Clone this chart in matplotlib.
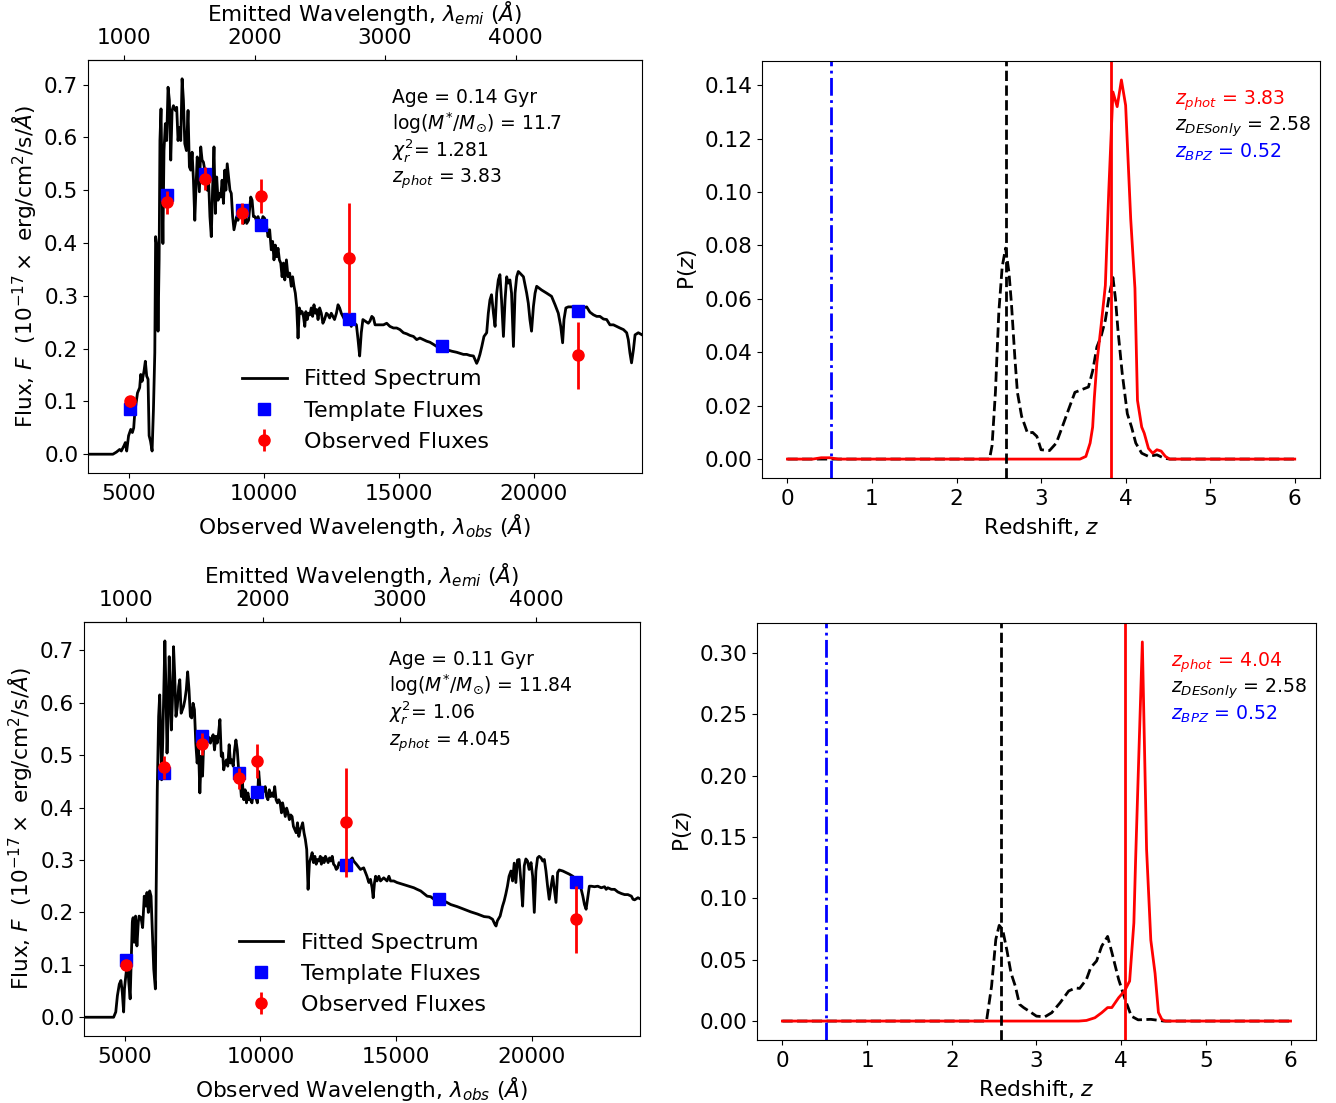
import numpy as np
import matplotlib
matplotlib.use("Agg")
import matplotlib.pyplot as plt

plt.rcParams['font.family'] = ['DejaVu Sans']
plt.rcParams['mathtext.fontset'] = 'dejavusans'

# ---------------- Object 1 (z_phot = 3.83) ----------------
z_phot1 = 3.83
wl1 = [3500, 4420, 4550, 4670, 4730, 4830, 4880, 4930, 5000, 5080, 5140, 5190, 5230, 5330, 5410, 5450,
       5500, 5570, 5620, 5670, 5720, 5760, 5810, 5870, 5920, 5970, 6000, 6050, 6090, 6130, 6160, 6200,
       6240, 6270, 6310, 6360, 6410, 6460, 6510, 6560, 6610, 6660, 6730, 6780, 6830, 6880, 6930, 6980,
       7030, 7080, 7140, 7200, 7250, 7300, 7350, 7400, 7450, 7500, 7540, 7620, 7670, 7720, 7770, 7820,
       7870, 7910, 7960, 8010, 8060, 8110, 8160, 8210, 8260, 8310, 8360, 8410, 8460, 8510, 8560, 8600,
       8650, 8700, 8750, 8800, 8850, 8900, 8950, 9000, 9050, 9100, 9150, 9200, 9250, 9300, 9370, 9440,
       9520, 9570, 9620, 9670, 9730, 9790, 9850, 9910, 9970, 10030, 10100, 10160, 10220, 10280, 10330,
       10380, 10430, 10480, 10530, 10580, 10630, 10680, 10730, 10780, 10840, 10900, 10960, 11020, 11070,
       11120, 11170, 11220, 11270, 11320, 11370, 11420, 11470, 11520, 11560, 11610, 11660, 11710, 11760,
       11810, 11860, 11910, 11960, 12010, 12070, 12130, 12190, 12250, 12320, 12380, 12440, 12500, 12560,
       12620, 12690, 12750, 12810, 12870, 12930, 12990, 13060, 13120, 13180, 13240, 13300, 13360, 13430,
       13490, 13550, 13610, 13670, 13870, 13930, 14000, 14060, 14120, 14180, 14300, 14430, 14550, 14670,
       14800, 14920, 15040, 15170, 15290, 15410, 15540, 15660, 15780, 15910, 16030, 16150, 16280, 16400,
       16590, 16770, 16960, 17140, 17260, 17390, 17510, 17630, 17760, 17820, 17880, 17940, 18000, 18070,
       18150, 18250, 18310, 18370, 18430, 18500, 18560, 18620, 18680, 18740, 18800, 18870, 18930, 18990,
       19050, 19110, 19170, 19240, 19300, 19360, 19420, 19480, 19610, 19730, 19790, 19850, 19910, 19980,
       20040, 20100, 20280, 20470, 20650, 20780, 20900, 20990, 21060, 21110, 21180, 21270, 21460, 21640,
       21830, 21950, 22070, 22200, 22320, 22440, 22570, 22690, 22810, 22940, 23060, 23180, 23310, 23430,
       23490, 23550, 23610, 23680, 23740, 23860, 24000]
fl1 = [0, 0, 0.004, 0.009, 0.006, 0.016, 0.022, 0.006, 0.035, 0.047, 0.041, 0.050, 0.079, 0.116, 0.126, 0.151,
       0.138, 0.157, 0.176, 0.148, 0.142, 0.035, 0.025, 0.006, 0.085, 0.192, 0.412, 0.393, 0.233, 0.368, 0.594, 0.654,
       0.500, 0.399, 0.575, 0.626, 0.594, 0.695, 0.670, 0.557, 0.651, 0.660, 0.651, 0.657, 0.594, 0.619, 0.594, 0.711,
       0.670, 0.588, 0.575, 0.651, 0.544, 0.538, 0.572, 0.519, 0.443, 0.513, 0.563, 0.497, 0.582, 0.557, 0.553, 0.538,
       0.528, 0.500, 0.519, 0.450, 0.412, 0.506, 0.582, 0.456, 0.525, 0.481, 0.494, 0.487, 0.519, 0.475, 0.538, 0.500,
       0.550, 0.525, 0.500, 0.494, 0.450, 0.425, 0.437, 0.450, 0.443, 0.469, 0.450, 0.456, 0.437, 0.456, 0.437, 0.443,
       0.487, 0.481, 0.450, 0.450, 0.443, 0.450, 0.440, 0.437, 0.450, 0.447, 0.434, 0.412, 0.425, 0.387, 0.403,
       0.368, 0.396, 0.374, 0.390, 0.368, 0.362, 0.336, 0.362, 0.330, 0.368, 0.336, 0.343, 0.318, 0.336,
       0.318, 0.305, 0.280, 0.220, 0.277, 0.267, 0.270, 0.261, 0.242, 0.270, 0.255, 0.267, 0.264, 0.277,
       0.261, 0.283, 0.267, 0.274, 0.255, 0.277, 0.267, 0.248, 0.255, 0.267, 0.264, 0.258, 0.267, 0.261,
       0.255, 0.267, 0.283, 0.277, 0.267, 0.261, 0.255, 0.258, 0.248, 0.255, 0.242, 0.252, 0.248, 0.245,
       0.217, 0.186, 0.230, 0.255, 0.248, 0.252, 0.261, 0.258, 0.245, 0.245, 0.245, 0.245, 0.248, 0.242,
       0.239, 0.239, 0.236, 0.230, 0.228, 0.225, 0.223, 0.217, 0.220, 0.217, 0.214, 0.212, 0.208, 0.204,
       0.204, 0.198, 0.195, 0.193, 0.191, 0.189, 0.189, 0.187, 0.186, 0.179, 0.172, 0.179, 0.189, 0.204,
       0.223, 0.230, 0.267, 0.292, 0.302, 0.267, 0.242, 0.305, 0.330, 0.340, 0.292, 0.223, 0.292, 0.336,
       0.324, 0.330, 0.305, 0.204, 0.305, 0.336, 0.346, 0.343, 0.336, 0.305, 0.286, 0.255, 0.233, 0.280,
       0.305, 0.318, 0.311, 0.305, 0.299, 0.283, 0.267, 0.242, 0.211, 0.255, 0.277, 0.279, 0.279, 0.279,
       0.277, 0.279, 0.269, 0.264, 0.261, 0.261, 0.256, 0.255, 0.245, 0.245, 0.242, 0.239, 0.236, 0.230,
       0.217, 0.192, 0.173, 0.198, 0.226, 0.230, 0.226]
templ_fl1 = [0.086, 0.491, 0.530, 0.462, 0.435, 0.256, 0.204, 0.272]

pz_z_phot1 = [0, 0.30, 0.40, 0.50, 0.60, 3.46, 3.53, 3.58, 3.61, 3.63, 3.66, 3.71, 3.76, 3.80, 3.85, 3.90,
              3.95, 4.00, 4.06, 4.11, 4.14, 4.19, 4.22, 4.27, 4.32, 4.37, 4.42, 4.47, 4.52, 6.0]
pz_phot1 = [0, 0, 0.0005, 0.0005, 0, 0, 0.001, 0.006, 0.012, 0.023, 0.036, 0.050, 0.065, 0.100, 0.1375, 0.132,
            0.142, 0.1325, 0.090, 0.064, 0.022, 0.012, 0.0097, 0.004, 0.0022, 0.0035, 0.003, 0.001, 0, 0]
pz_z_des1 = [0, 2.39, 2.42, 2.46, 2.50, 2.54, 2.58, 2.62, 2.65, 2.69, 2.72, 2.77, 2.84, 2.90, 2.95, 3.00,
             3.10, 3.18, 3.25, 3.33, 3.40, 3.48, 3.56, 3.61, 3.66, 3.71, 3.76, 3.81, 3.85, 3.88, 3.91, 3.96,
             4.02, 4.07, 4.12, 4.19, 4.27, 4.37, 4.45, 4.52, 6.0]
pz_des1 = [0, 0, 0.005, 0.025, 0.055, 0.072, 0.079, 0.070, 0.058, 0.038, 0.025, 0.016, 0.0097, 0.010, 0.0085, 0.0035,
           0.0032, 0.006, 0.012, 0.019, 0.025, 0.026, 0.027, 0.033, 0.042, 0.046, 0.052, 0.062, 0.068, 0.060, 0.048, 0.032,
           0.017, 0.012, 0.006, 0.0022, 0.001, 0.0016, 0.0004, 0, 0]

# ---------------- Object 2 (z_phot = 4.045) ----------------
z_phot2 = 4.045
z_phot2_pdf = 4.04
wl2 = [3500, 4590, 4670, 4730, 4800, 4860, 4910, 4960, 4990, 5040, 5100, 5150, 5200, 5240, 5280, 5310,
       5350, 5400, 5450, 5500, 5530, 5600, 5660, 5720, 5780, 5820, 5870, 5920, 5970, 6020, 6070, 6130,
       6160, 6200, 6250, 6290, 6320, 6360, 6400, 6440, 6480, 6520, 6560, 6600, 6640, 6680, 6720, 6760,
       6800, 6840, 6890, 6940, 6990, 7030, 7080, 7130, 7170, 7220, 7270, 7320, 7370, 7420, 7470, 7520,
       7570, 7620, 7670, 7720, 7770, 7820, 7870, 7910, 7960, 8010, 8060, 8110, 8160, 8210, 8260, 8310,
       8360, 8410, 8460, 8510, 8560, 8610, 8650, 8700, 8750, 8800, 8850, 8900, 8950, 9000, 9050, 9100,
       9150, 9200, 9250, 9300, 9340, 9390, 9440, 9490, 9540, 9590, 9640, 9690, 9740, 9790, 9840, 9890,
       9940, 9990, 10040, 10080, 10130, 10180, 10230, 10280, 10330, 10380, 10430, 10480, 10530, 10580,
       10630, 10680, 10730, 10780, 10820, 10870, 10920, 10970, 11020, 11070, 11120, 11170, 11220, 11270,
       11320, 11370, 11420, 11470, 11520, 11560, 11610, 11660, 11710, 11760, 11810, 11860, 11910, 11960,
       12010, 12060, 12110, 12160, 12210, 12250, 12300, 12350, 12400, 12450, 12500, 12550, 12600, 12650,
       12700, 12750, 12800, 12850, 12900, 12950, 12990, 13040, 13090, 13140, 13190, 13240, 13290, 13340,
       13390, 13440, 13490, 13540, 13690, 13810, 13930, 14000, 14060, 14120, 14160, 14210, 14250, 14300,
       14370, 14430, 14490, 14550, 14610, 14670, 14740, 14800, 14920, 15040, 15170, 15290, 15410, 15540,
       15660, 15780, 15910, 16030, 16150, 16280, 16400, 16590, 16770, 17020, 17260, 17510, 17760, 18000,
       18250, 18430, 18560, 18650, 18690, 18740, 18840, 18930, 18990, 19050, 19110, 19170, 19240, 19300,
       19360, 19420, 19480, 19540, 19610, 19670, 19730, 19790, 19850, 19910, 19980, 20040, 20100, 20160,
       20220, 20280, 20350, 20410, 20470, 20530, 20590, 20650, 20720, 20780, 20840, 20900, 20960, 21020,
       21150, 21270, 21390, 21520, 21640, 21760, 21830, 21890, 21950, 22010, 22070, 22130, 22200, 22320,
       22440, 22570, 22690, 22750, 22810, 22940, 23060, 23180, 23310, 23430, 23550, 23680, 23740, 23800,
       23920, 24000]
fl2 = [0, 0, 0.010, 0.041, 0.063, 0.070, 0.048, 0.010, 0.054, 0.079, 0.105, 0.067, 0.035, 0.111, 0.181, 0.190,
       0.143, 0.193, 0.136, 0.181, 0.193, 0.190, 0.171, 0.231, 0.212, 0.238, 0.200, 0.241, 0.231, 0.162, 0.092, 0.054,
       0.244, 0.434, 0.574, 0.615, 0.555, 0.453, 0.523, 0.625, 0.718, 0.625, 0.504, 0.574, 0.688, 0.625, 0.548, 0.606,
       0.707, 0.656, 0.574, 0.593, 0.631, 0.644, 0.580, 0.587, 0.593, 0.606, 0.625, 0.659, 0.625, 0.574, 0.571, 0.599,
       0.587, 0.523, 0.485, 0.517, 0.428, 0.498, 0.460, 0.523, 0.526, 0.529, 0.536, 0.533, 0.523, 0.533, 0.539, 0.510,
       0.536, 0.523, 0.542, 0.568, 0.498, 0.504, 0.472, 0.485, 0.491, 0.479, 0.520, 0.485, 0.491, 0.479, 0.510, 0.529,
       0.510, 0.472, 0.453, 0.421, 0.447, 0.415, 0.434, 0.409, 0.428, 0.415, 0.415, 0.409, 0.428, 0.421, 0.418, 0.409,
       0.469, 0.437, 0.421, 0.434, 0.431, 0.440, 0.421, 0.415, 0.434, 0.421, 0.428, 0.421, 0.440, 0.415,
       0.409, 0.415, 0.409, 0.390, 0.409, 0.396, 0.383, 0.399, 0.390, 0.377, 0.386, 0.383, 0.364, 0.358,
       0.352, 0.371, 0.345, 0.358, 0.364, 0.371, 0.352, 0.339, 0.320, 0.244, 0.295, 0.304, 0.314, 0.295,
       0.307, 0.292, 0.301, 0.298, 0.307, 0.292, 0.304, 0.295, 0.307, 0.301, 0.295, 0.304, 0.298, 0.307,
       0.292, 0.289, 0.282, 0.285, 0.295, 0.292, 0.289, 0.295, 0.292, 0.295, 0.292, 0.285, 0.292, 0.301,
       0.304, 0.298, 0.295, 0.292, 0.282, 0.285, 0.269, 0.257, 0.263, 0.247, 0.228, 0.257, 0.269, 0.260,
       0.269, 0.260, 0.263, 0.266, 0.263, 0.260, 0.269, 0.260, 0.260, 0.257, 0.255, 0.253, 0.251, 0.249,
       0.247, 0.244, 0.241, 0.236, 0.231, 0.230, 0.225, 0.223, 0.222, 0.215, 0.211, 0.206, 0.201, 0.197,
       0.192, 0.191, 0.187, 0.177, 0.174, 0.184, 0.193, 0.212, 0.222, 0.235, 0.250, 0.269, 0.279, 0.260,
       0.294, 0.257, 0.300, 0.301, 0.257, 0.212, 0.289, 0.302, 0.298, 0.282, 0.295, 0.269, 0.200, 0.279,
       0.304, 0.307, 0.304, 0.298, 0.301, 0.279, 0.250, 0.225, 0.250, 0.269, 0.244, 0.219, 0.276, 0.281,
       0.279, 0.276, 0.273, 0.269, 0.263, 0.254, 0.244, 0.231, 0.215, 0.206, 0.228, 0.250, 0.250, 0.249,
       0.250, 0.247, 0.249, 0.244, 0.247, 0.244, 0.244, 0.239, 0.236, 0.234, 0.234, 0.231, 0.225, 0.224,
       0.228, 0.226]
templ_fl2 = [0.110, 0.466, 0.536, 0.466, 0.429, 0.290, 0.225, 0.258]

pz_z_phot2 = [0, 3.50, 3.59, 3.69, 3.77, 3.84, 3.89, 3.97, 4.04, 4.10, 4.15, 4.17, 4.21, 4.25, 4.30, 4.35,
              4.40, 4.44, 4.48, 4.52, 6.0]
pz_phot2 = [0, 0, 0.0005, 0.0027, 0.0068, 0.011, 0.011, 0.019, 0.0245, 0.0326, 0.080, 0.130, 0.220, 0.309, 0.140, 0.066,
            0.039, 0.007, 0.0014, 0, 0]
pz_z_des2 = [0, 2.41, 2.47, 2.52, 2.56, 2.60, 2.65, 2.70, 2.75, 2.80, 2.85, 2.93, 3.00, 3.10, 3.18, 3.28,
             3.38, 3.46, 3.51, 3.59, 3.64, 3.71, 3.77, 3.84, 3.89, 3.97, 4.04, 4.12, 4.20, 4.35, 4.45, 4.50, 6.0]
pz_des2 = [0, 0, 0.0285, 0.0666, 0.078, 0.0747, 0.058, 0.039, 0.0285, 0.0136, 0.0109, 0.0073, 0.004, 0.0035, 0.0068, 0.015,
           0.0245, 0.027, 0.0266, 0.034, 0.0435, 0.049, 0.061, 0.069, 0.056, 0.034, 0.019, 0.004, 0.001, 0.0014, 0.0005, 0, 0]

# ---------------- Shared photometry ----------------
band_wl = [5040, 6430, 7840, 9210, 9890, 13150, 16590, 21620]
obs_wl = [5040, 6430, 7840, 9210, 9890, 13150, 21620]
obs_fl = [0.100, 0.477, 0.522, 0.456, 0.489, 0.372, 0.187]
obs_err = [0.010, 0.022, 0.021, 0.020, 0.033, 0.104, 0.064]
z_desonly = 2.58
z_bpz = 0.52

stats1 = ["Age = 0.14 Gyr", r"log($M^{*}/M_{\odot}$) = 11.7", r"$\chi_{r}^{2}$= 1.281", r"$z_{phot}$ = 3.83"]
stats2 = ["Age = 0.11 Gyr", r"log($M^{*}/M_{\odot}$) = 11.84", r"$\chi_{r}^{2}$= 1.06", r"$z_{phot}$ = 4.045"]

FS = 15.6

fig = plt.figure(figsize=(13.36, 11.03), dpi=100)
ax_tl = fig.add_axes([0.0659, 0.5712, 0.4147, 0.3744])
ax_tr = fig.add_axes([0.5704, 0.5666, 0.4177, 0.3781])
ax_bl = fig.add_axes([0.0629, 0.0607, 0.4162, 0.3753])
ax_br = fig.add_axes([0.5666, 0.0571, 0.4184, 0.3781])


def sed_panel(ax, wl, fl, templ, z, stats):
    ax.plot(wl, fl, color='black', lw=2, label='Fitted Spectrum')
    ax.plot(band_wl, templ, 's', color='blue', ms=8, label='Template Fluxes')
    ax.errorbar(obs_wl, obs_fl, yerr=obs_err, fmt='o', color='red', ms=8, elinewidth=2,
                label='Observed Fluxes')
    ax.set_xlim(3500, 24000)
    ax.set_xticks([5000, 10000, 15000, 20000])
    ax.tick_params(labelsize=FS)
    ax.tick_params(axis='x', pad=4.5)
    ax.set_xlabel(r'Observed Wavelength, $\lambda_{obs}$ ($\AA$)', fontsize=FS, labelpad=6)
    ax.set_ylabel(r'Flux, $F$  ($10^{-17}\times$ erg/cm$^2$/s/$\AA$)', fontsize=FS)
    top = ax.secondary_xaxis('top', functions=(lambda x: x / (1 + z), lambda x: x * (1 + z)))
    top.set_xticks([1000, 2000, 3000, 4000])
    top.tick_params(labelsize=FS, pad=5.5)
    top.set_xlabel(r'Emitted Wavelength, $\lambda_{emi}$ ($\AA$)', fontsize=FS, labelpad=5)
    for i, s in enumerate(stats):
        ax.text(0.549, 0.896 - 0.0645 * i, s, transform=ax.transAxes, fontsize=13.5, va='baseline')
    ax.legend(loc='lower left', bbox_to_anchor=(0.262, 0.03), borderaxespad=0, frameon=False,
              fontsize=16, numpoints=1)


def pz_panel(ax, zd, pd, zp, pp, zphot):
    ax.plot(zd, pd, color='black', ls='--', lw=2)
    ax.plot(zp, pp, color='red', lw=2)
    ax.axvline(zphot, color='red', lw=2)
    ax.axvline(z_desonly, color='black', ls='--', lw=2)
    ax.axvline(z_bpz, color='blue', ls='-.', lw=2)
    ax.tick_params(labelsize=FS)
    ax.tick_params(axis='x', pad=4.5)
    ax.set_xlabel(r'Redshift, $z$', fontsize=FS, labelpad=5)
    ax.set_ylabel(r'P($z$)', fontsize=FS)
    ax.text(0.74, 0.896, r'$z_{phot}$ = %.2f' % zphot, color='red', transform=ax.transAxes,
            fontsize=13.6, va='baseline')
    ax.text(0.74, 0.832, r'$z_{DESonly}$ = %.2f' % z_desonly, color='black', transform=ax.transAxes,
            fontsize=13.6, va='baseline')
    ax.text(0.74, 0.768, r'$z_{BPZ}$ = %.2f' % z_bpz, color='blue', transform=ax.transAxes,
            fontsize=13.6, va='baseline')


sed_panel(ax_tl, wl1, fl1, templ_fl1, z_phot1, stats1)
sed_panel(ax_bl, wl2, fl2, templ_fl2, z_phot2, stats2)
pz_panel(ax_tr, pz_z_des1, pz_des1, pz_z_phot1, pz_phot1, z_phot1)
pz_panel(ax_br, pz_z_des2, pz_des2, pz_z_phot2, pz_phot2, z_phot2_pdf)

fig.savefig('out.png', dpi=100)
